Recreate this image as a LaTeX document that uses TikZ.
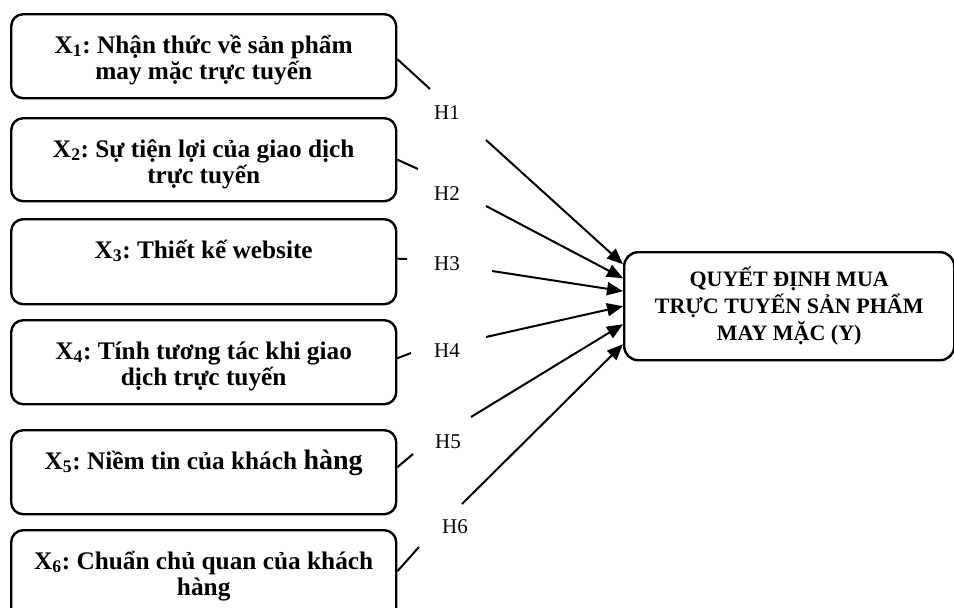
\documentclass[tikz,border=0pt]{standalone}
\usepackage{fontspec}
\setmainfont{Liberation Serif}
\usetikzlibrary{arrows.meta}
\frenchspacing

% text of a factor box: top-aligned, first baseline 40pt below the top edge
\newcommand{\factortext}[2]{%
  \parbox[t][#1][t]{385pt}{\centering\fontsize{25.3}{26}\selectfont\bfseries
    \rule{0pt}{39pt}#2\par}}

\begin{document}
\begin{tikzpicture}[x=1pt,y=-1pt,
  factor/.style={draw, line width=2.4pt, rounded corners=12pt,
    inner sep=0pt, anchor=north west},
  outcome/.style={draw, line width=2.4pt, rounded corners=14pt,
    inner sep=0pt, anchor=north west, minimum width=330pt,
    minimum height=108pt, align=center,
    font=\fontsize{22}{27}\selectfont\bfseries},
  hlab/.style={font=\fontsize{21}{21}\selectfont, inner sep=0pt},
  link/.style={line width=2pt},
  arr/.style={line width=2pt, -{Triangle[length=16pt,width=13pt]}}]

\useasboundingbox (0,0) rectangle (954,608);

% factor boxes
\node[factor] (x1) at (10,13)  {\factortext{84pt}{X\textsubscript{1}: Nhận thức về sản phẩm\\ may mặc trực tuyến}};
\node[factor] (x2) at (10,117) {\factortext{83pt}{X\textsubscript{2}: Sự tiện lợi của giao dịch\\ trực tuyến}};
\node[factor] (x3) at (10,218) {\factortext{85pt}{X\textsubscript{3}: Thiết kế website}};
\node[factor] (x4) at (10,319) {\factortext{84pt}{X\textsubscript{4}: Tính tương tác khi giao\\ dịch trực tuyến}};
\node[factor] (x5) at (10,429) {\factortext{84pt}{X\textsubscript{5}: Niềm tin của khách {\fontsize{28}{28}\selectfont hàng}}};
\node[factor] (x6) at (10,529) {\factortext{92pt}{X\textsubscript{6}: Chuẩn chủ quan của khách\\ hàng}};

% outcome box
\node[outcome] (y) at (623,251) {QUYẾT ĐỊNH MUA\\ TRỰC TUYẾN SẢN PHẨM\\ MAY MẶC (Y)};

% hypothesis labels
\node[hlab] (h1) at (447,113) {H1};
\node[hlab] (h2) at (447,194) {H2};
\node[hlab] (h3) at (447,264) {H3};
\node[hlab] (h4) at (447,351) {H4};
\node[hlab] (h5) at (448,442) {H5};
\node[hlab] (h6) at (455,527) {H6};

% break points of each path around its label
\coordinate (p1) at (430,89);  \coordinate (q1) at (486,140);
\coordinate (p2) at (418,169); \coordinate (q2) at (486,206);
\coordinate (p3) at (407,259); \coordinate (q3) at (492,271);
\coordinate (p4) at (411,353); \coordinate (q4) at (486,337);
\coordinate (p5) at (413,454); \coordinate (q5) at (471,417);
\coordinate (p6) at (419,547); \coordinate (q6) at (462,504);

% paths from the factors to the outcome
\draw[link] ([yshift=-3pt]x1.east) -- (p1);
\draw[arr] (q1) -- ([yshift=42pt]y.west);
\draw[link] (x2.east) -- (p2);
\draw[arr] (q2) -- ([yshift=28pt]y.west);
\draw[link] ([yshift=3pt]x3.east) -- (p3);
\draw[arr] (q3) -- ([yshift=15pt]y.west);
\draw[link] ([yshift=4pt]x4.east) -- (p4);
\draw[arr] (q4) -- (y.west);
\draw[link] ([yshift=5pt]x5.east) -- (p5);
\draw[arr] (q5) -- ([yshift=-18pt]y.west);
\draw[link] ([yshift=5pt]x6.east) -- (p6);
\draw[arr] (q6) -- ([yshift=-38pt]y.west);
\end{tikzpicture}
\end{document}
